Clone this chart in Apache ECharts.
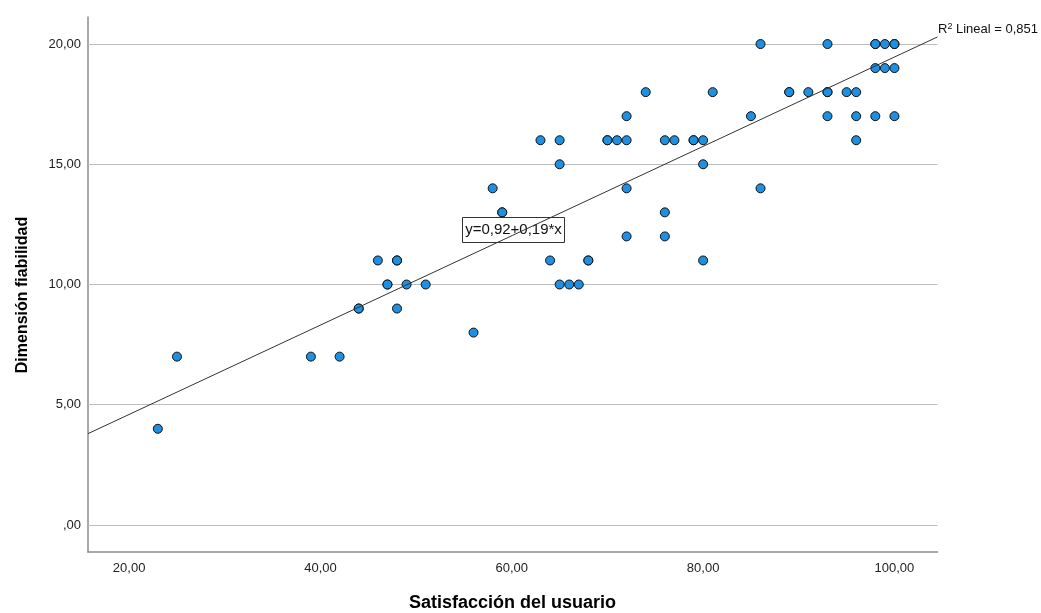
<!DOCTYPE html>
<html>
<head>
<meta charset="utf-8">
<script src="https://cdn.jsdelivr.net/npm/echarts@6/dist/echarts.min.js"></script>
<style>html,body{margin:0;padding:0;background:#fff;}#c{width:1041px;height:613px;}</style>
</head>
<body>
<div id="c"></div>
<script>
var satisfaccion = [23,25,39,42,44,44,46,47,47,48,48,48,49,51,56,58,59,59,63,64,65,65,65,66,67,68,68,70,70,71,72,72,72,72,74,76,76,76,77,79,79,80,80,80,81,85,86,86,89,89,91,93,93,93,93,95,96,96,96,98,98,98,98,99,99,100,100,100,100];
var fiabilidad  = [4,7,7,7,9,9,11,10,10,9,11,11,10,10,8,14,13,13,16,11,16,15,10,10,10,11,11,16,16,16,17,16,14,12,18,16,13,12,16,16,16,16,15,11,18,17,20,14,18,18,18,20,18,18,17,18,18,17,16,20,20,19,17,20,19,20,20,19,17];
var xTicks = [20,40,60,80,100];
var yTicks = [0,5,10,15,20];
var xRange = [15.7, 104.5];
var yRange = [-1.125, 21.125];
// fit line as drawn in the picture (intercept, slope)
var fitCoef = [0.88, 0.1858];
var eqLabel = 'y=0,92+0,19*x';
var r2Label = '0,851';
var xTitle = 'Satisfacción del usuario';
var yTitle = 'Dimensión fiabilidad';

var fitLine = xRange.map(function(x){ return [x, fitCoef[0] + fitCoef[1]*x]; });
var pts = satisfaccion.map(function(v,i){return [v, fiabilidad[i]];});
function fmt(v){ if (v===0) return ',00'; return v.toFixed(2).replace('.', ','); }

var chart = echarts.init(document.getElementById('c'), null, {renderer:'canvas'});
chart.setOption({
  animation:false,
  backgroundColor:'#ffffff',
  grid:{left:88, right:103.5, top:17, bottom:61, containLabel:false},
  xAxis:{
    type:'value', min:xRange[0], max:xRange[1],
    axisLine:{show:true, onZero:false, lineStyle:{color:'#8c8c8c', width:1.5}},
    axisTick:{show:false},
    splitLine:{show:false},
    axisLabel:{customValues:xTicks, formatter:fmt, fontFamily:'Liberation Sans', fontSize:13, color:'#222', margin:10}
  },
  yAxis:{
    type:'value', min:yRange[0], max:yRange[1],
    axisLine:{show:true, onZero:false, lineStyle:{color:'#8c8c8c', width:1.5}},
    axisTick:{show:false},
    splitLine:{show:false},
    axisLabel:{customValues:yTicks, formatter:fmt, fontFamily:'Liberation Sans', fontSize:13, color:'#222', margin:7}
  },
  series:[
    {
      type:'scatter', data:pts, symbol:'circle', symbolSize:9, z:3,
      itemStyle:{color:'#1e8fe1', borderColor:'#111', borderWidth:1, opacity:1},
      markLine:{silent:true, symbol:['none','none'], label:{show:false}, z:1,
        lineStyle:{color:'#bdbdbd', width:1, type:'solid'},
        emphasis:{disabled:true},
        data:yTicks.map(function(v){return {yAxis:v};})}
    },
    {
      type:'line', data:fitLine, symbol:'none', z:4, silent:true,
      lineStyle:{color:'#333', width:1}
    }
  ],
  graphic:[
    {type:'group', left:462, top:217, z:10, children:[
      {type:'rect', shape:{x:0,y:0,width:102,height:25}, style:{fill:'#fff', stroke:'#333', lineWidth:1}},
      {type:'text', x:51, y:12.5, style:{text:eqLabel, fill:'#111', font:'15px "Liberation Sans"', align:'center', verticalAlign:'middle'}}
    ]},
    {type:'text', x:938, y:29.5, z:10, style:{
      text:'R{sup|2} Lineal = '+r2Label,
      rich:{sup:{fontSize:9, verticalAlign:'top', padding:[0,0,6,0], fontFamily:'Liberation Sans', fill:'#111'}},
      fill:'#111', font:'13px "Liberation Sans"', verticalAlign:'middle'
    }},
    {type:'text', x:512.5, y:603, z:10, style:{text:xTitle, fill:'#000', font:'bold 18px "Liberation Sans"', align:'center', verticalAlign:'middle'}},
    {type:'text', x:22.5, y:295, rotation:Math.PI/2, z:10, style:{text:yTitle, fill:'#000', font:'bold 16px "Liberation Sans"', align:'center', verticalAlign:'middle'}}
  ]
});
</script>
</body>
</html>
